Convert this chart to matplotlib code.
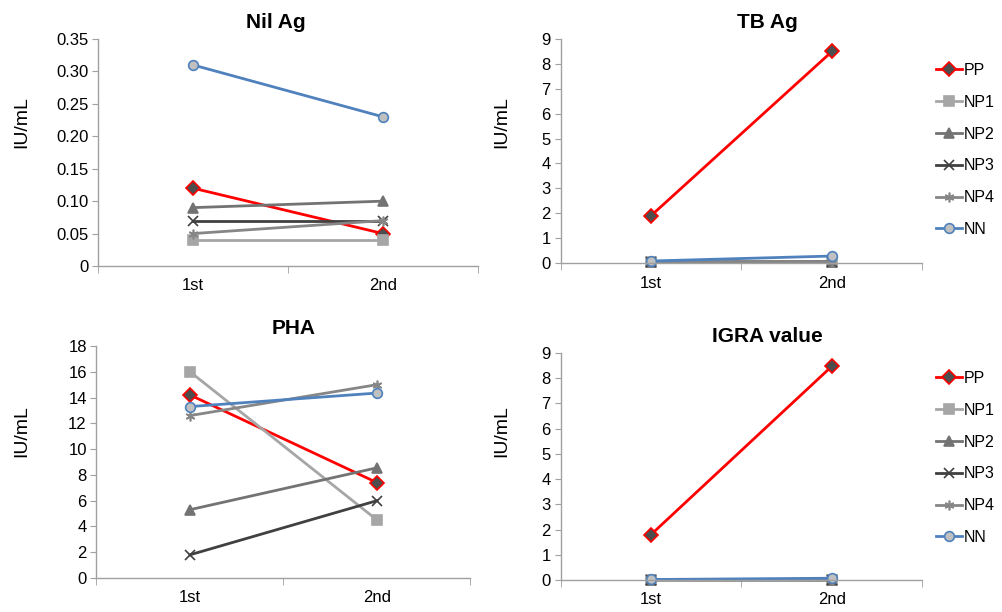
import matplotlib.pyplot as plt

plt.rcParams['font.family'] = ['Liberation Sans', 'DejaVu Sans']

visits = ["1st", "2nd"]
groups = ["PP", "NP1", "NP2", "NP3", "NP4", "NN"]

nil_ag = {"PP": [0.12, 0.05], "NP1": [0.04, 0.04], "NP2": [0.09, 0.10],
          "NP3": [0.07, 0.07], "NP4": [0.05, 0.07], "NN": [0.31, 0.23]}
tb_ag = {"PP": [1.90, 8.50], "NP1": [0.05, 0.03], "NP2": [0.04, 0.05],
         "NP3": [0.03, 0.04], "NP4": [0.05, 0.04], "NN": [0.08, 0.28]}
pha = {"PP": [14.2, 7.4], "NP1": [16.0, 4.5], "NP2": [5.3, 8.55],
       "NP3": [1.8, 6.0], "NP4": [12.6, 15.0], "NN": [13.3, 14.35]}
igra = {"PP": [1.80, 8.48], "NP1": [0.01, 0.00], "NP2": [0.00, 0.01],
        "NP3": [0.01, 0.00], "NP4": [0.00, 0.01], "NN": [0.02, 0.07]}

# line colour, marker, marker face, marker edge
styles = {
    "PP":  ("#ff0000", "D", "#4d4d4d", "#ff0000"),
    "NP1": ("#a6a6a6", "s", "#a6a6a6", "#a6a6a6"),
    "NP2": ("#737373", "^", "#737373", "#737373"),
    "NP3": ("#404040", "x", "#404040", "#404040"),
    "NP4": ("#868686", (6, 2, 0), "#868686", "#868686"),
    "NN":  ("#4f81bd", "o", "#c0c0c0", "#4f81bd"),
}

W, H = 1003, 612
fig = plt.figure(figsize=(W / 100, H / 100), dpi=100)


def px_axes(left, right, top, bottom):
    return fig.add_axes([left / W, 1 - bottom / H, (right - left) / W, (bottom - top) / H])


# title, data, box (px), ymax, step, 2-decimal labels, title x, ylabel x, ylabel y (px)
panels = [
    ("Nil Ag", nil_ag, (98, 478, 39, 266), 0.35, 0.05, True, 276, 30, 122),
    ("TB Ag", tb_ag, (560.5, 922.5, 39, 263), 9, 1, False, 767, 510, 122),
    ("PHA", pha, (96.5, 470.5, 346, 578), 18, 2, False, 294, 30, 431),
    ("IGRA value", igra, (560.5, 922.5, 353, 580), 9, 1, False, 767, 510, 431),
]

for title, data, box, ymax, step, fmt2, tx, lx, ly in panels:
    ax = px_axes(*box)
    left, right, top, bottom = box
    x = [1, 2]
    for g in groups:
        c, m, fc, ec = styles[g]
        ax.plot(x, data[g], color=c, linewidth=2, marker=m, markersize=7,
                markerfacecolor=fc, markeredgecolor=ec, markeredgewidth=1.2,
                label=g, clip_on=False)
    ax.set_xlim(0.5, 2.5)
    ax.set_ylim(0, ymax)
    n = int(round(ymax / step))
    ticks = [i * step for i in range(n + 1)]
    ax.set_yticks(ticks)
    if fmt2:
        ax.set_yticklabels(["0"] + ["%.2f" % t for t in ticks[1:]])
    else:
        ax.set_yticklabels(["%d" % t for t in ticks])
    ax.set_xticks(x)
    ax.set_xticklabels(visits)
    ax.set_xticks([0.5, 1.5, 2.5], minor=True)
    ax.tick_params(axis='x', which='major', length=0, pad=9, labelsize=12)
    ax.tick_params(axis='x', which='minor', length=5, color="#a0a0a0", direction='out')
    ax.tick_params(axis='y', length=4, color="#a0a0a0", labelsize=12, pad=3)
    for s in ("top", "right"):
        ax.spines[s].set_visible(False)
    for s in ("left", "bottom"):
        ax.spines[s].set_color("#a0a0a0")
        ax.spines[s].set_linewidth(1)
    ax.set_ylabel("IU/mL", fontsize=14)
    ax.yaxis.set_label_coords((lx - left) / (right - left), (bottom - ly) / (bottom - top))
    fig.text(tx / W, 1 - (top - 17) / H, title, ha='center', va='center',
             fontsize=15, fontweight='bold')
    if title in ("TB Ag", "IGRA value"):
        gy = 150 if title == "TB Ag" else 458
        ax.legend(loc='center left', bbox_to_anchor=(936 / W, 1 - gy / H),
                  bbox_transform=fig.transFigure, frameon=False, fontsize=11.5,
                  handlelength=1.6, handletextpad=0.15, labelspacing=1.05,
                  borderaxespad=0, borderpad=0)

fig.savefig("out.png", dpi=100)
